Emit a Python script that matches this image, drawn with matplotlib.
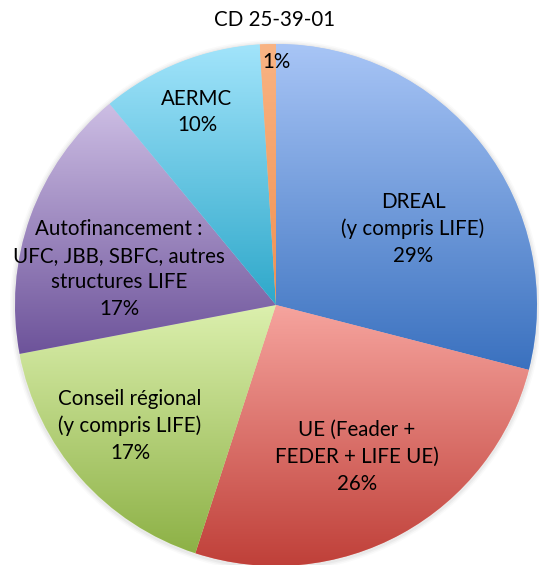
import numpy as np
import matplotlib
matplotlib.use("Agg")
from matplotlib import pyplot as plt
from matplotlib.colors import LinearSegmentedColormap, to_rgb

plt.rcParams['font.family'] = ['Lato', 'DejaVu Sans']

# données (répartition du financement)
labels = ["DREAL\n(y compris LIFE)",
          "UE (Feader +\nFEDER + LIFE UE)",
          "Conseil régional\n(y compris LIFE)",
          "Autofinancement :\nUFC, JBB, SBFC, autres\nstructures LIFE",
          "AERMC",
          "CD 25-39-01"]
values = [29, 26, 17, 17, 10, 1]

# couleurs dégradées (haut clair -> bas foncé)
top_colors = ["#a8c5f6", "#f6a49e", "#dcf0ae", "#cdbee4", "#a2e4fb", "#f9b484"]
bottom_colors = ["#3a71bf", "#bf3f38", "#8db146", "#6d539a", "#2ea8ca", "#f09050"]

W, H = 539, 565
fig = plt.figure(figsize=(W / 100, H / 100), dpi=100)
ax = fig.add_axes([0, 0, 1, 1])

cx, cy, r = 276, H - 305, 261
fs = 14.8

# ombre légère autour du camembert
for k, a in zip([5, 3.5, 2], [0.04, 0.06, 0.08]):
    ax.add_patch(plt.Circle((cx, cy - 1), r + k, color="grey", alpha=a, lw=0))

wedges, _ = ax.pie(values, startangle=90, counterclock=False,
                   center=(cx, cy), radius=r,
                   wedgeprops=dict(linewidth=0))

for w, c1, c2 in zip(wedges, top_colors, bottom_colors):
    v = w.get_path().vertices
    x0, x1 = v[:, 0].min(), v[:, 0].max()
    y0, y1 = v[:, 1].min(), v[:, 1].max()
    cmap = LinearSegmentedColormap.from_list("g", [to_rgb(c2), to_rgb(c1)])
    grad = np.linspace(0, 1, 256).reshape(-1, 1)
    w.set_facecolor(c1)
    im = ax.imshow(grad, cmap=cmap, extent=[x0, x1, y0, y1], origin="lower",
                   aspect="auto", zorder=w.get_zorder() + 0.1)
    im.set_clip_path(w)

# étiquettes (texte + pourcentage)
label_pos = [(413, 229), (357, 457), (130, 426), (119, 269), (197, 112)]
for (lx, ly), lab, val in zip(label_pos, labels[:5], values[:5]):
    ax.text(lx, H - ly, "%s\n%d%%" % (lab, val), ha="center", va="center",
            fontsize=fs, linespacing=1.42, color="black", zorder=10)

ax.text(275, H - 20, labels[5], ha="center", va="center", fontsize=fs, zorder=10)
ax.text(277, H - 62, "%d%%" % values[5], ha="center", va="center", fontsize=fs, zorder=10)

ax.set_xlim(0, W)
ax.set_ylim(0, H)
ax.set_aspect("auto")
ax.axis("off")

fig.savefig("out.png", dpi=100)
